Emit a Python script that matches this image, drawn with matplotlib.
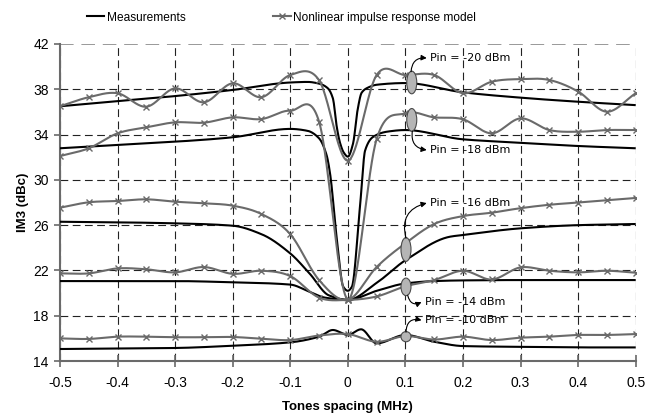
import numpy as np
import matplotlib
matplotlib.use("Agg")
import matplotlib.pyplot as plt
from matplotlib.patches import Ellipse
from matplotlib.lines import Line2D

plt.rcParams['font.family'] = ['Liberation Sans', 'DejaVu Sans']

# tone spacing of the model points (MHz)
tones_model = [-0.5, -0.45, -0.4, -0.35, -0.3, -0.25, -0.2, -0.15, -0.1, -0.05, 0.0,
               0.05, 0.1, 0.15, 0.2, 0.25, 0.3, 0.35, 0.4, 0.45, 0.5]

# nonlinear impulse response model, IM3 (dBc)
model_m20 = [36.5, 37.3, 37.65, 36.46, 38.08, 36.85, 38.53, 37.3, 39.26, 38.8, 31.7,
             39.26, 39.26, 39.26, 37.65, 38.67, 38.9, 38.82, 37.8, 36.02, 37.65]
model_m18 = [32.1, 32.79, 34.11, 34.64, 35.08, 35.05, 35.52, 35.37, 36.11, 35.14, 19.45,
             33.6, 35.88, 35.52, 35.35, 34.11, 35.43, 34.4, 34.25, 34.4, 34.4]
model_m16 = [27.54, 28.02, 28.13, 28.28, 28.07, 27.93, 27.72, 26.98, 25.2, 21.15, 19.4,
             22.3, 24.4, 26.1, 26.8, 27.1, 27.5, 27.8, 28.0, 28.2, 28.4]
model_m14 = [21.74, 21.74, 22.18, 22.1, 21.83, 22.3, 21.7, 21.97, 21.5, 19.6, 19.4,
             19.7, 20.6, 21.15, 21.97, 21.2, 22.27, 21.97, 21.83, 21.97, 21.8]
model_m10 = [16.0, 15.95, 16.15, 16.15, 16.1, 16.1, 16.12, 15.97, 15.85, 16.25, 16.38,
             15.7, 16.2, 15.9, 16.15, 15.85, 16.06, 16.15, 16.3, 16.3, 16.38]

# measurements
meas_m20_x = [-0.5, -0.4, -0.3, -0.2, -0.1, -0.07, -0.05, -0.035, -0.026, -0.019, -0.0135,
              -0.007, 0.0, 0.009, 0.017, 0.024, 0.035, 0.05, 0.1, 0.2, 0.3, 0.4, 0.5]
meas_m20_y = [36.5, 36.96, 37.4, 37.94, 38.6, 38.65, 38.5, 38.1, 37.2, 34.6, 33.25,
              32.4, 32.05, 33.2, 36.2, 37.7, 38.15, 38.4, 38.55, 37.73, 37.26, 36.9, 36.6]
meas_m18_x = [-0.5, -0.4, -0.3, -0.2, -0.1, -0.07, -0.05, -0.037, -0.031, -0.019, -0.008,
              0.0, 0.007, 0.021, 0.03, 0.044, 0.0675, 0.1, 0.2, 0.3, 0.4, 0.5]
meas_m18_y = [32.79, 33.08, 33.37, 33.76, 34.5, 34.33, 33.67, 32.2, 30.6, 24.7, 20.56,
              20.2, 20.56, 27.6, 32.6, 33.8, 34.25, 34.4, 33.58, 33.28, 32.99, 32.79]
meas_m16_x = [-0.5, -0.4, -0.3, -0.2, -0.15, -0.1, -0.066, -0.033, 0.0, 0.05, 0.1,
              0.1775, 0.2, 0.3, 0.4, 0.5]
meas_m16_y = [26.3, 26.25, 26.16, 25.95, 25.2, 23.5, 21.7, 19.8, 19.4, 20.9, 22.9,
              24.98, 25.13, 25.72, 26.0, 26.1]
meas_m14_x = [-0.5, -0.3, -0.2, -0.1, -0.066, -0.04, 0.0, 0.05, 0.1, 0.15, 0.2, 0.3, 0.4, 0.5]
meas_m14_y = [21.06, 21.06, 20.95, 20.75, 20.1, 19.6, 19.4, 20.2, 20.85, 21.06, 21.12,
              21.15, 21.15, 21.15]
meas_m10_x = [-0.5, -0.4, -0.3, -0.2, -0.1, -0.05, -0.026, 0.0, 0.023, 0.05, 0.1, 0.15,
              0.2, 0.3, 0.4, 0.5]
meas_m10_y = [15.06, 15.1, 15.15, 15.35, 15.65, 16.15, 16.74, 16.3, 16.8, 15.56, 16.3,
              15.7, 15.32, 15.25, 15.2, 15.2]

pin_labels = ['Pin = -20 dBm', 'Pin = -18 dBm', 'Pin = -16 dBm', 'Pin = -14 dBm', 'Pin = -10 dBm']

MODEL_GRAY = '#6a6a6a'
AXIS_GRAY = '#6a6a6a'


def hermite(x, y, m, n=1500):
    x = np.asarray(x, float)
    y = np.asarray(y, float)
    h = np.diff(x)
    xs = np.linspace(x[0], x[-1], n)
    idx = np.clip(np.searchsorted(x, xs) - 1, 0, len(x) - 2)
    t = (xs - x[idx]) / h[idx]
    h00 = 2 * t**3 - 3 * t**2 + 1
    h10 = t**3 - 2 * t**2 + t
    h01 = -2 * t**3 + 3 * t**2
    h11 = t**3 - t**2
    ys = h00 * y[idx] + h10 * h[idx] * m[idx] + h01 * y[idx + 1] + h11 * h[idx] * m[idx + 1]
    return xs, ys


# excel-like smoothed line (catmull-rom)
def smooth_cr(x, y):
    x = np.asarray(x, float)
    y = np.asarray(y, float)
    m = np.zeros_like(y)
    m[1:-1] = (y[2:] - y[:-2]) / (x[2:] - x[:-2])
    m[0] = (y[1] - y[0]) / (x[1] - x[0])
    m[-1] = (y[-1] - y[-2]) / (x[-1] - x[-2])
    return hermite(x, y, m)


# monotone cubic for the measured curves
def smooth_pchip(x, y):
    x = np.asarray(x, float)
    y = np.asarray(y, float)
    h = np.diff(x)
    d = np.diff(y) / h
    m = np.zeros_like(y)
    for k in range(1, len(x) - 1):
        if d[k - 1] * d[k] > 0:
            w1 = 2 * h[k] + h[k - 1]
            w2 = h[k] + 2 * h[k - 1]
            m[k] = (w1 + w2) / (w1 / d[k - 1] + w2 / d[k])
    m[0] = d[0]
    m[-1] = d[-1]
    return hermite(x, y, m)


fig = plt.figure(figsize=(6.45, 4.19), dpi=100)
ax = fig.add_axes([0.093, 0.1384, 0.8926, 0.7566])

models = [model_m20, model_m18, model_m16, model_m14, model_m10]
meas = [(meas_m20_x, meas_m20_y), (meas_m18_x, meas_m18_y), (meas_m16_x, meas_m16_y),
        (meas_m14_x, meas_m14_y), (meas_m10_x, meas_m10_y)]

for mx, my in meas:
    xs, ys = smooth_pchip(mx, my)
    ax.plot(xs, ys, color='black', lw=1.5, zorder=3, solid_capstyle='butt')

for my in models:
    xs, ys = smooth_cr(tones_model, my)
    ax.plot(xs, ys, color=MODEL_GRAY, lw=1.5, zorder=4)
    ax.plot(tones_model, my, ls='none', marker='x', ms=5, mew=1.0, color=MODEL_GRAY, zorder=4)

ax.set_xlim(-0.5, 0.5)
ax.set_ylim(14, 42)
ax.set_xticks([-0.5, -0.4, -0.3, -0.2, -0.1, 0.0, 0.1, 0.2, 0.3, 0.4, 0.5])
ax.set_xticklabels(['-0.5', '-0.4', '-0.3', '-0.2', '-0.1', '0', '0.1', '0.2', '0.3', '0.4', '0.5'])
ax.set_yticks([14, 18, 22, 26, 30, 34, 38, 42])

ax.grid(True, color='#222222', lw=0.8, ls=(0, (7, 4)))
ax.set_axisbelow(True)
# top border is a lighter dashed line
ax.yaxis.get_gridlines()[-1].set_color('#999999')
ax.yaxis.get_gridlines()[-1].set_linewidth(1.4)
for s in ['top', 'right']:
    ax.spines[s].set_visible(False)
for s in ['left', 'bottom']:
    ax.spines[s].set_color(AXIS_GRAY)
    ax.spines[s].set_linewidth(1.5)
ax.tick_params(axis='y', direction='out', length=4, width=1.2, color=AXIS_GRAY,
               labelsize=10, pad=4)
ax.tick_params(axis='x', direction='inout', length=8, width=1.2, color=AXIS_GRAY,
               labelsize=10, pad=7)

ax.set_xlabel('Tones spacing (MHz)', fontsize=9.5, fontweight='bold', labelpad=8)
ax.set_ylabel('IM3 (dBc)', fontsize=9.5, fontweight='bold', labelpad=3)

# ellipses marking each curve pair
ell_pos = [(0.111, 38.6, 2.0), (0.111, 35.3, 2.0), (0.101, 23.85, 2.1),
           (0.101, 20.55, 1.55), (0.101, 16.15, 0.9)]
for cx, cy, hh in ell_pos:
    ax.add_patch(Ellipse((cx, cy), 0.0174, hh, facecolor='#b5b5b5', edgecolor='#4a4a4a',
                         lw=0.8, zorder=6))

# labels with curved arrows
txt_pos = [(0.143, 40.76), (0.143, 32.64), (0.143, 27.95), (0.134, 19.2), (0.134, 17.6)]
arrow_start = [(0.1098, 39.55), (0.112, 34.3), (0.101, 24.85), (0.104, 19.8), (0.101, 16.55)]
rads = [-0.5, 0.5, -0.5, 0.6, -0.6]
for lab, (tx, ty), (sx, sy), r in zip(pin_labels, txt_pos, arrow_start, rads):
    ax.text(tx, ty, lab, fontsize=8, family='DejaVu Sans', ha='left', va='center', zorder=7)
    ax.annotate('', xy=(tx - 0.006, ty), xytext=(sx, sy),
                arrowprops=dict(arrowstyle='-|>', color='black', lw=0.8, mutation_scale=8,
                                shrinkA=0, shrinkB=0, connectionstyle='arc3,rad=%s' % r),
                zorder=7)

handles = [Line2D([], [], color='black', lw=1.5),
           Line2D([], [], color=MODEL_GRAY, lw=1.5, marker='x', ms=5, mew=1.0)]
fig.legend(handles, ['Measurements', 'Nonlinear impulse response model'], loc='center',
           bbox_to_anchor=(0.436, 0.958), ncol=2, frameon=False, fontsize=8.6,
           handlelength=1.5, handletextpad=0.2, columnspacing=7.3)

fig.savefig('out.png', dpi=100)
